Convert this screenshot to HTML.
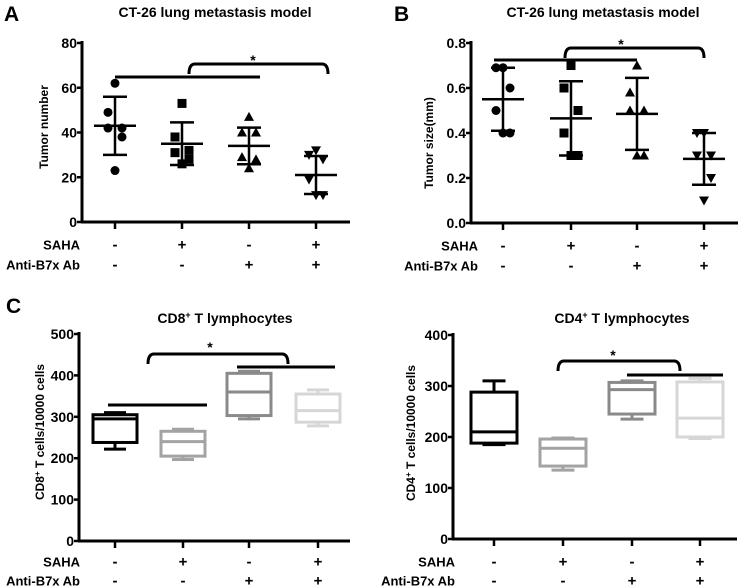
<!DOCTYPE html>
<html><head><meta charset="utf-8"><style>
html,body{margin:0;padding:0;background:#fff;}
svg{display:block;font-family:"Liberation Sans",sans-serif;}
</style></head><body>
<svg id="fig" width="740" height="587" viewBox="0 0 740 587"></svg>
<script>
// ---- data ----
const groupsA = ['g1','g2','g3','g4'];
const tumorNumberPts = [[62,49,42,42,38,23],[53,38,32,31,28,26],[47,40,40,29,28,24],[32,30,28,19,12,12]];
const tumorNumberMean = [43,35,34,21];
const tumorNumberSD = [13,9.5,8.2,8.5];
const ticksA = [0,20,40,60,80];
const tumorSizePts = [[0.69,0.69,0.6,0.5,0.4,0.4],[0.7,0.6,0.5,0.4,0.3,0.3],[0.7,0.58,0.5,0.5,0.3,0.3],[0.4,0.4,0.3,0.3,0.2,0.1]];
const tumorSizeMean = [0.55,0.465,0.485,0.285];
const tumorSizeSD = [0.14,0.165,0.16,0.115];
const ticksB = ['0.0','0.2','0.4','0.6','0.8'];
const cd8Min = [222,197,295,278], cd8Q1=[238,205,303,287], cd8Med=[295,240,360,315], cd8Q3=[305,265,405,355], cd8Max=[310,270,410,365];
const ticksC = [0,100,200,300,400,500];
const cd4Min = [185,135,235,197], cd4Q1=[188,143,245,200], cd4Med=[210,178,293,237], cd4Q3=[288,196,307,308], cd4Max=[310,198,310,315];
const ticksD = [0,100,200,300,400];
const sahaRow = ['-','+','-','+'];
const antiRow = ['-','-','+','+'];
const boxColors = ['#000','#a3a3a3','#8a8a8a','#d6d6d6'];

const svg = document.getElementById('fig');
const NS='http://www.w3.org/2000/svg';
function mk(tag, attrs, parent, name, text){
  const e=document.createElementNS(NS,tag);
  for(const k in attrs) e.setAttribute(k,attrs[k]);
  
  
  if(text!==undefined) e.textContent=text;
  (parent||svg).appendChild(e); return e;
}
function panel(p){
  const g=mk('g',{},svg,p.id);
  const y=v=>p.y0+(p.y1-p.y0)*(v/p.max);
  mk('line',{x1:p.ax,y1:p.y1-2,x2:p.ax,y2:p.y0+1,stroke:'#000','stroke-width':3},g,'y-axis');
  mk('line',{x1:p.ax-1,y1:p.y0,x2:p.xe,y2:p.y0,stroke:'#000','stroke-width':3},g,'x-axis');
  p.ticks.forEach((t,i)=>{
    const v=parseFloat(t), yy=y(v);
    mk('line',{x1:p.ax-5,y1:yy,x2:p.ax,y2:yy,stroke:'#000','stroke-width':2.5},g,'y-tick');
    mk('text',{x:p.ax-5,y:yy+5,'text-anchor':'end','font-size':14,'font-weight':'bold'},g,'y-tick-label',t);
  });
  p.cx.forEach(c=>mk('line',{x1:c,y1:p.y0,x2:c,y2:p.y0+7,stroke:'#000','stroke-width':2.5},g,'x-tick'));
  mk('text',{x:p.rowX,y:p.rowY1+4.5,'text-anchor':'end','font-size':13,'font-weight':'bold'},g,'saha-row-label','SAHA');
  mk('text',{x:p.rowX,y:p.rowY2+4.5,'text-anchor':'end','font-size':13,'font-weight':'bold'},g,'anti-b7x-row-label','Anti-B7x Ab');
  p.cx.forEach((c,i)=>{
    mk('text',{x:c,y:p.rowY1+4.5,'text-anchor':'middle','font-size':15,'font-weight':'bold'},g,'saha-sign',sahaRow[i]);
    mk('text',{x:c,y:p.rowY2+4.5,'text-anchor':'middle','font-size':15,'font-weight':'bold'},g,'anti-sign',antiRow[i]);
  });
  const tt=mk('text',{x:p.tx,y:p.ty,'text-anchor':'middle','font-size':14,'font-weight':'bold'},g,'chart-title');
  tt.innerHTML=p.title;
  if(p.letter) mk('text',{x:p.lx,y:p.ly,'font-size':21,'font-weight':'bold'},g,'panel-letter',p.letter);
  const yt=mk('text',{transform:`translate(${p.ytx},${p.yty}) rotate(-90)`,'text-anchor':'middle','font-size':12,'font-weight':'bold'},g,'y-axis-title');
  yt.innerHTML=p.ytitle;
  const s=p.sig;
  mk('line',{x1:s.l1,y1:s.ly,x2:s.l2,y2:s.ly,stroke:'#000','stroke-width':3},g,'significance-line');
  if(s.m1!==undefined) mk('line',{x1:s.m1,y1:s.my,x2:s.m2,y2:s.my,stroke:'#000','stroke-width':3},g,'significance-line-2');
  mk('path',{d:`M${s.b1},${s.bb} Q${s.b1},${s.bt} ${s.b1+6},${s.bt} L${s.b2-6},${s.bt} Q${s.b2},${s.bt} ${s.b2},${s.bb}`,fill:'none',stroke:'#000','stroke-width':3},g,'significance-bracket');
  mk('text',{x:s.sx,y:s.sy,'text-anchor':'middle','font-size':14,'font-weight':'bold'},g,'significance-star','*');
  return {g,y};
}
function scatter(p,pts,mean,sd,shapes){
  const P=panel(p), y=P.y;
  p.cx.forEach((c,i)=>{
    pts[i].forEach((v,j)=>{
      const px=c+[0,-7,7,-7,7,0][j], py=y(v);
      const sh=shapes[i];
      if(sh==='c') mk('circle',{cx:px,cy:py,r:4.5,fill:'#000'},P.g,'data-point');
      else if(sh==='s') mk('rect',{x:px-4.5,y:py-4.5,width:9,height:9,fill:'#000'},P.g,'data-point');
      else if(sh==='t') mk('path',{d:`M${px},${py-5} L${px+5},${py+4} L${px-5},${py+4}Z`,fill:'#000'},P.g,'data-point');
      else mk('path',{d:`M${px},${py+5} L${px+5},${py-4} L${px-5},${py-4}Z`,fill:'#000'},P.g,'data-point');
    });
    const m=y(mean[i]), hi=y(mean[i]+sd[i]), lo=y(mean[i]-sd[i]);
    mk('line',{x1:c,y1:hi,x2:c,y2:lo,stroke:'#000','stroke-width':2.5},P.g,'error-bar');
    mk('line',{x1:c-12,y1:hi,x2:c+12,y2:hi,stroke:'#000','stroke-width':2.5},P.g,'error-cap');
    mk('line',{x1:c-12,y1:lo,x2:c+12,y2:lo,stroke:'#000','stroke-width':2.5},P.g,'error-cap');
    mk('line',{x1:c-21,y1:m,x2:c+21,y2:m,stroke:'#000','stroke-width':2.5},P.g,'mean-line');
  });
}
function boxes(p,mn,q1,md,q3,mx,hw){
  const P=panel(p), y=P.y;
  p.cx.forEach((c,i)=>{
    const col=boxColors[i], gb=mk('g',{stroke:col,'stroke-width':3,fill:'none'},P.g,'box-'+(i+1));
    mk('line',{x1:c,y1:y(mx[i]),x2:c,y2:y(q3[i])},gb,'whisker');
    mk('line',{x1:c,y1:y(mn[i]),x2:c,y2:y(q1[i])},gb,'whisker');
    mk('line',{x1:c-hw/2,y1:y(mx[i]),x2:c+hw/2,y2:y(mx[i])},gb,'whisker-cap');
    mk('line',{x1:c-hw/2,y1:y(mn[i]),x2:c+hw/2,y2:y(mn[i])},gb,'whisker-cap');
    mk('rect',{x:c-hw,y:y(q3[i]),width:hw*2,height:y(q1[i])-y(q3[i])},gb,'box');
    mk('line',{x1:c-hw,y1:y(md[i]),x2:c+hw,y2:y(md[i])},gb,'median-line');
  });
}
scatter({id:'panel-a',ax:82,xe:350,y0:222,y1:43,max:80,ticks:ticksA,cx:[115,182,249,316],rowX:80,rowY1:245,rowY2:265,
  tx:215,ty:17,title:'CT-26 lung metastasis model',letter:'A',lx:4,ly:21,ytx:48,yty:127,ytitle:'Tumor number',
  sig:{l1:115,l2:260,ly:77,b1:189,b2:328,bt:64,bb:74,sx:253,sy:65}},
  tumorNumberPts,tumorNumberMean,tumorNumberSD,['c','s','t','v']);
scatter({id:'panel-b',ax:471,xe:738,y0:223,y1:43,max:0.8,ticks:ticksB,cx:[503,571,637,704],rowX:478,rowY1:246,rowY2:266,
  tx:603,ty:17,title:'CT-26 lung metastasis model',letter:'B',lx:394,ly:21,ytx:433,yty:143,ytitle:'Tumor size(mm)',
  sig:{l1:494,l2:637,ly:60,b1:565,b2:704,bt:48,bb:58,sx:621,sy:49}},
  tumorSizePts,tumorSizeMean,tumorSizeSD,['c','s','t','v']);
boxes({id:'panel-c-cd8',ax:79,xe:350,y0:541,y1:334,max:500,ticks:ticksC,cx:[115,183,249,318],rowX:80,rowY1:562,rowY2:581,
  tx:225,ty:323,title:'CD8<tspan baseline-shift="super" font-size="9">+</tspan> T lymphocytes',letter:'C',lx:6,ly:313,ytx:44,yty:432,
  ytitle:'CD8<tspan baseline-shift="super" font-size="8">+</tspan>  T cells/10000 cells',
  sig:{l1:108,l2:207,ly:405,m1:237,m2:335,my:367,b1:148,b2:288,bt:354,bb:364,sx:210,sy:352}},
  cd8Min,cd8Q1,cd8Med,cd8Q3,cd8Max,22);
boxes({id:'panel-c-cd4',ax:453,xe:737,y0:539,y1:335,max:400,ticks:ticksD,cx:[494,563,632,700],rowX:455,rowY1:562,rowY2:581,
  tx:622,ty:323,title:'CD4<tspan baseline-shift="super" font-size="9">+</tspan> T lymphocytes',letter:null,ytx:415,yty:433,
  ytitle:'CD4<tspan baseline-shift="super" font-size="8">+</tspan>  T cells/10000 cells',
  sig:{l1:627,l2:723,ly:375,b1:558,b2:680,bt:361,bb:371,sx:613,sy:360}},
  cd4Min,cd4Q1,cd4Med,cd4Q3,cd4Max,23);
</script>
</body></html>
